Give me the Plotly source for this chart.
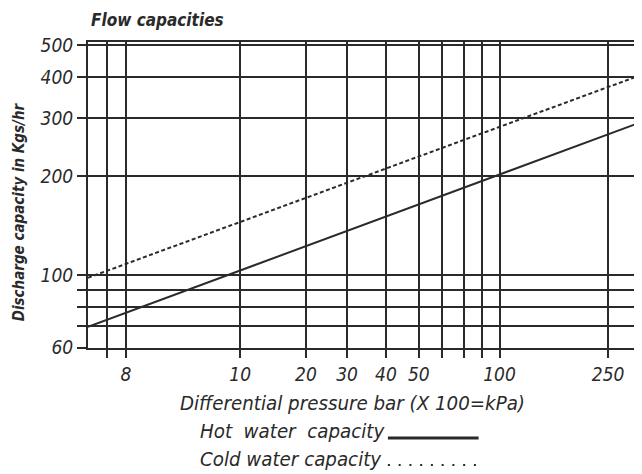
import numpy as np
import plotly.graph_objects as go

# ---- chart values ----
pressure_gridlines = [7, 8, 10, 20, 30, 40, 50, 60, 70, 80, 100, 250]
pressure_labels = ["", "8", "10", "20", "30", "40", "50", "", "", "", "100", "250"]
capacity_gridlines = [60, 70, 80, 90, 100, 200, 300, 400, 500]
capacity_labels = ["60", "", "", "", "100", "200", "300", "400", "500"]

hot_pressure = [6, 300]
hot_capacity = [69.5, 291]
cold_pressure = [6, 300]
cold_capacity = [98, 405]

# The printed pressure scale is hand drawn and not uniform:
# where each pressure sits along the axis, as a fraction of its length.
scale_pressure = [6, 7, 8, 10, 20, 30, 40, 50, 60, 70, 80, 100, 250, 300]
scale_fraction = [0, 0.0338, 0.0686, 0.2756, 0.3948, 0.4693, 0.5397, 0.5993,
                  0.6408, 0.6805, 0.7130, 0.7455, 0.9422, 1.0]


def to_axis(p):
    return np.interp(p, scale_pressure, scale_fraction)


FONT = "DejaVu Sans Condensed, Liberation Sans, sans-serif"
INK = "#2a2a2a"

fig = go.Figure()
fig.add_trace(go.Scatter(x=to_axis(hot_pressure), y=hot_capacity, mode="lines",
                         line=dict(color=INK, width=2), name="Hot water capacity",
                         showlegend=False))
fig.add_trace(go.Scatter(x=to_axis(cold_pressure), y=cold_capacity, mode="lines",
                         line=dict(color=INK, width=2, dash="4px,2.5px"),
                         name="Cold water capacity", showlegend=False))

# page has an 8px body margin; figure is placed at (8, 8)
OFF = 8
W, H = 634, 466
PL, PT, PB = 88, 42, 348          # plot-area edges in page pixels
L, T = PL - OFF, PT - OFF
B = H - (PB - OFF)
R = 0
pw, ph = W - L - R, H - T - B


def px(x):
    return (x - OFF - L) / pw


def py(y):
    return (H - B - (y - OFF)) / ph


tickfont = dict(family=FONT, size=19, color=INK, style="italic")

fig.update_layout(
    width=W, height=H,
    margin=dict(l=L, r=R, t=T, b=B, pad=0),
    paper_bgcolor="white", plot_bgcolor="white",
    showlegend=False,
    xaxis=dict(
        type="linear", range=[0, 1],
        tickmode="array", tickvals=to_axis(pressure_gridlines), ticktext=pressure_labels,
        showgrid=True, gridcolor=INK, gridwidth=2,
        showline=True, linecolor=INK, linewidth=2, mirror=True,
        ticks="outside", ticklen=8, tickwidth=2, tickcolor=INK,
        tickfont=tickfont, zeroline=False,
    ),
    yaxis=dict(
        type="log", range=[np.log10(59.9), 2.709],
        tickmode="array", tickvals=capacity_gridlines, ticktext=capacity_labels,
        showgrid=True, gridcolor=INK, gridwidth=2,
        showline=True, linecolor=INK, linewidth=2, mirror=True,
        ticks="outside", ticklen=9, tickwidth=2, tickcolor=INK,
        tickfont=tickfont, zeroline=False,
    ),
)

ann = []
ann.append(dict(text="Flow capacities", xref="paper", yref="paper",
                x=px(89), y=py(8), xanchor="left", yanchor="top", showarrow=False,
                font=dict(family=FONT, size=17, color=INK, style="italic", weight="bold")))
ann.append(dict(text="Discharge capacity in Kgs/hr", xref="paper", yref="paper",
                x=px(8), y=py(212), xanchor="left", yanchor="middle", showarrow=False,
                textangle=-90,
                font=dict(family=FONT, size=15, color=INK, style="italic", weight="bold")))
ann.append(dict(text="Differential pressure bar (X 100=kPa)", xref="paper", yref="paper",
                x=px(178), y=py(403), xanchor="left", yanchor="middle", showarrow=False,
                font=dict(family=FONT, size=20.3, color=INK, style="italic")))
ann.append(dict(text="Hot  water  capacity", xref="paper", yref="paper",
                x=px(198), y=py(431), xanchor="left", yanchor="middle", showarrow=False,
                font=dict(family=FONT, size=20.3, color=INK, style="italic")))
ann.append(dict(text="Cold water capacity", xref="paper", yref="paper",
                x=px(198), y=py(459), xanchor="left", yanchor="middle", showarrow=False,
                font=dict(family=FONT, size=20.3, color=INK, style="italic")))
fig.update_layout(annotations=ann)

# legend samples
fig.add_shape(type="line", xref="paper", yref="paper",
              x0=px(389), x1=px(480), y0=py(438), y1=py(438),
              line=dict(color=INK, width=3))
fig.add_shape(type="line", xref="paper", yref="paper",
              x0=px(389), x1=px(478), y0=py(465), y1=py(465),
              line=dict(color=INK, width=2, dash="2px,8.75px"))

fig.write_html("out.html")
